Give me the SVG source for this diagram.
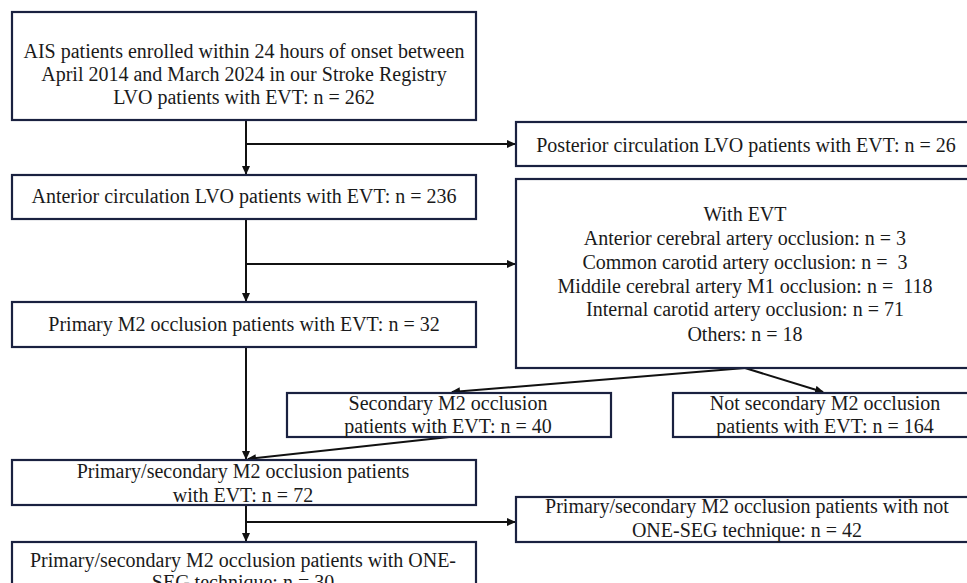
<svg xmlns="http://www.w3.org/2000/svg" width="967" height="583" viewBox="0 0 967 583">
<style>
.box{fill:#fff;stroke:#1a2140;stroke-width:2.2}
.t{font-family:"Liberation Serif","Times New Roman",serif;font-size:20px;fill:#1a1a1a;text-anchor:middle;white-space:pre}
.c{fill:none;stroke:#111;stroke-width:2}
</style>
<defs>
<marker id="ah" markerWidth="9" markerHeight="8" refX="8" refY="4" orient="auto" markerUnits="userSpaceOnUse">
<path d="M0,0 L9,4 L0,8 z" fill="#111"/>
</marker>
</defs>
<rect width="967" height="583" fill="#fff"/>
<g id="connectors">
<line class="c" x1="246" y1="120" x2="246" y2="174" marker-end="url(#ah)"/>
<line class="c" x1="246" y1="144" x2="515" y2="144" marker-end="url(#ah)"/>
<line class="c" x1="246" y1="219" x2="246" y2="301" marker-end="url(#ah)"/>
<line class="c" x1="246" y1="264" x2="515" y2="264" marker-end="url(#ah)"/>
<line class="c" x1="246" y1="347" x2="246" y2="459" marker-end="url(#ah)"/>
<line class="c" x1="745" y1="368" x2="452" y2="392" marker-end="url(#ah)"/>
<line class="c" x1="745" y1="368" x2="823" y2="392" marker-end="url(#ah)"/>
<line class="c" x1="449" y1="437" x2="248" y2="459" marker-end="url(#ah)"/>
<line class="c" x1="246" y1="505" x2="246" y2="541" marker-end="url(#ah)"/>
<line class="c" x1="246" y1="522" x2="515" y2="522" marker-end="url(#ah)"/>
</g>
<g id="n1">
<rect class="box" x="12" y="12" width="464" height="108"/>
<text class="t" x="244" y="58">AIS patients enrolled within 24 hours of onset between</text>
<text class="t" x="244" y="81">April 2014 and March 2024 in our Stroke Registry</text>
<text class="t" x="244" y="104">LVO patients with EVT: n = 262</text>
</g>
<g id="n2">
<rect class="box" x="516" y="122" width="462" height="44"/>
<text class="t" x="746" y="152">Posterior circulation LVO patients with EVT: n = 26</text>
</g>
<g id="n3">
<rect class="box" x="12" y="175" width="464" height="44"/>
<text class="t" x="244" y="203">Anterior circulation LVO patients with EVT: n = 236</text>
</g>
<g id="n4">
<rect class="box" x="516" y="179" width="462" height="189"/>
<text class="t" x="745" y="221">With EVT</text>
<text class="t" x="745" y="245">Anterior cerebral artery occlusion: n = 3</text>
<text class="t" x="745" y="269">Common carotid artery occlusion: n =  3</text>
<text class="t" x="745" y="293">Middile cerebral artery M1 occlusion: n =  118</text>
<text class="t" x="745" y="316">Internal carotid artery occlusion: n = 71</text>
<text class="t" x="745" y="341">Others: n = 18</text>
</g>
<g id="n5">
<rect class="box" x="12" y="302" width="464" height="45"/>
<text class="t" x="244" y="331">Primary M2 occlusion patients with EVT: n = 32</text>
</g>
<g id="n6">
<rect class="box" x="287" y="393" width="324" height="44"/>
<text class="t" x="448" y="410">Secondary M2 occlusion</text>
<text class="t" x="448" y="433">patients with EVT: n = 40</text>
</g>
<g id="n7">
<rect class="box" x="673" y="393" width="305" height="44"/>
<text class="t" x="825" y="410">Not secondary M2 occlusion</text>
<text class="t" x="825" y="433">patients with EVT: n = 164</text>
</g>
<g id="n8">
<rect class="box" x="12" y="460" width="464" height="45"/>
<text class="t" x="243" y="478">Primary/secondary M2 occlusion patients</text>
<text class="t" x="243" y="502">with EVT: n = 72</text>
</g>
<g id="n9">
<rect class="box" x="516" y="497" width="462" height="45"/>
<text class="t" x="747" y="513">Primary/secondary M2 occlusion patients with not</text>
<text class="t" x="747" y="537">ONE-SEG technique: n = 42</text>
</g>
<g id="n10">
<rect class="box" x="12" y="542" width="464" height="60"/>
<text class="t" x="243" y="567">Primary/secondary M2 occlusion patients with ONE-</text>
<text class="t" x="243" y="589">SEG technique: n = 30</text>
</g>
</svg>
